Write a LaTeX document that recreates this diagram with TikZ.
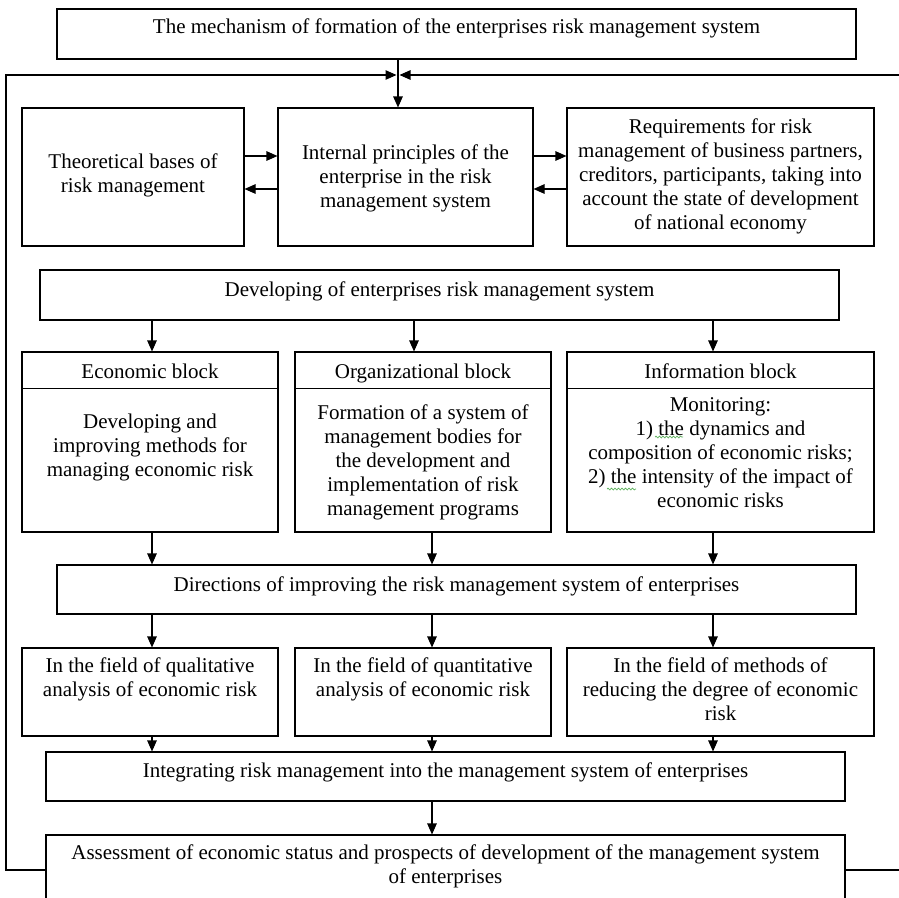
\documentclass[tikz,border=0pt]{standalone}
\usepackage{fontspec}
\setmainfont{Liberation Serif}
\usetikzlibrary{arrows.meta,decorations.pathmorphing}
\definecolor{spell}{RGB}{90,175,90}
\begin{document}
\begin{tikzpicture}[x=1pt,y=-1pt,
  box/.style={draw, rectangle, inner sep=0pt, line width=1.1pt},
  txt/.style={inner sep=0pt, align=center, font=\fontsize{21}{24}\selectfont, anchor=base},
  arr/.style={-{Triangle[length=11pt,width=9.5pt]}, line width=1.1pt},
  squig/.style={draw=spell, line width=0.7pt, decorate,
    decoration={snake, amplitude=0.9pt, segment length=3.5pt}}
]
\useasboundingbox (0,0) rectangle (899,897);
\clip (0,0) rectangle (899,897);

% boxes
\node[box, minimum width=799pt, minimum height=50pt]  (top)    at (456.5,34)    {};
\node[box, minimum width=222pt, minimum height=138pt] (theo)   at (133,177)     {};
\node[box, minimum width=255pt, minimum height=138pt] (intp)   at (405.5,177)   {};
\node[box, minimum width=307pt, minimum height=138pt] (req)    at (720.5,177)   {};
\node[box, minimum width=799pt, minimum height=50pt]  (dev)    at (439.5,295)   {};
\node[box, minimum width=256pt, minimum height=180pt] (econ)   at (150,442)     {};
\node[box, minimum width=256pt, minimum height=180pt] (org)    at (423,442)     {};
\node[box, minimum width=307pt, minimum height=180pt] (info)   at (720.5,442)   {};
\node[box, minimum width=799pt, minimum height=49pt]  (dir)    at (456.5,589.5) {};
\node[box, minimum width=256pt, minimum height=88pt]  (qual)   at (150,692)     {};
\node[box, minimum width=256pt, minimum height=88pt]  (quan)   at (423,692)     {};
\node[box, minimum width=307pt, minimum height=88pt]  (meth)   at (720.5,692)   {};
\node[box, minimum width=799pt, minimum height=49pt]  (integ)  at (445.5,776.5) {};
\node[box, minimum width=799pt, minimum height=70pt]  (assess) at (445.5,870)   {};

% block header separators
\foreach \b in {econ,org,info}
  \draw[line width=1.1pt] ([yshift=-37pt]\b.north west) -- ([yshift=-37pt]\b.north east);

% texts (placed by the baseline of their last line)
\node[txt] (topT)   at (456.5,33)  {The mechanism of formation of the enterprises risk management system};
\node[txt] (theoT)  at (133,192)   {Theoretical bases of\\risk management};
\node[txt] (intpT)  at (405.5,207) {Internal principles of the\\enterprise in the risk\\management system};
\node[txt] (reqT)   at (720.5,229) {Requirements for risk\\management of business partners,\\creditors, participants, taking into\\account the state of development\\of national economy};
\node[txt] (devT)   at (439.5,296) {Developing of enterprises risk management system};
\node[txt] (econH)  at (150,378)   {Economic block};
\node[txt] (orgH)   at (423,378)   {Organizational block};
\node[txt] (infoH)  at (720.5,378) {Information block};
\node[txt] (econT)  at (150,476)   {Developing and\\improving methods for\\managing economic risk};
\node[txt] (orgT)   at (423,515)   {Formation of a system of\\management bodies for\\the development and\\implementation of risk\\management programs};
\node[txt] (infoT)  at (720.5,507) {Monitoring:\\1) the dynamics and\\composition of economic risks;\\2) the intensity of the impact of\\economic risks};
\node[txt] (dirT)   at (456.5,591) {Directions of improving the risk management system of enterprises};
\node[txt] (qualT)  at (150,696)   {In the field of qualitative\\analysis of economic risk};
\node[txt] (quanT)  at (423,696)   {In the field of quantitative\\analysis of economic risk};
\node[txt] (methT)  at (720.5,720) {In the field of methods of\\reducing the degree of economic\\risk};
\node[txt] (integT) at (445.5,777) {Integrating risk management into the management system of enterprises};
\node[txt] (assessT) at (445.5,883) {Assessment of economic status and prospects of development of the management system\\of enterprises};

% spell-check marks
\path[squig] (655,437) -- (683,437);
\path[squig] (607,489) -- (636,489);

% column positions of the vertical connectors
\coordinate (loop) at (398,75);
\coordinate (colA) at (152,0);
\coordinate (colB) at (432,0);
\coordinate (colBd) at (414,0);
\coordinate (colC) at (713,0);
\coordinate (fbL) at (6,75);
\coordinate (fbR) at (915,75);

% top entry and feedback loop
\draw[arr] (loop |- top.south) -- (loop |- intp.north);
\draw[arr] (assess.west) -| (fbL) -- ([xshift=-1.5pt]loop);
\draw[arr] (assess.east) -| (fbR) -- ([xshift=1.5pt]loop);

% horizontal exchanges
\draw[arr] ([yshift=21pt]theo.east) -- ([yshift=21pt]intp.west);
\draw[arr] ([yshift=-12pt]intp.west) -- ([yshift=-12pt]theo.east);
\draw[arr] ([yshift=21pt]intp.east) -- ([yshift=21pt]req.west);
\draw[arr] ([yshift=-12pt]req.west) -- ([yshift=-12pt]intp.east);

% development to blocks
\draw[arr] (colA |- dev.south) -- (colA |- econ.north);
\draw[arr] (colBd |- dev.south) -- (colBd |- org.north);
\draw[arr] (colC |- dev.south) -- (colC |- info.north);

% blocks to directions
\draw[arr] (colA |- econ.south) -- (colA |- dir.north);
\draw[arr] (colB |- org.south) -- (colB |- dir.north);
\draw[arr] (colC |- info.south) -- (colC |- dir.north);

% directions to fields
\draw[arr] (colA |- dir.south) -- (colA |- qual.north);
\draw[arr] (colB |- dir.south) -- (colB |- quan.north);
\draw[arr] (colC |- dir.south) -- (colC |- meth.north);

% fields to integration
\draw[arr] (colA |- qual.south) -- (colA |- integ.north);
\draw[arr] (colB |- quan.south) -- (colB |- integ.north);
\draw[arr] (colC |- meth.south) -- (colC |- integ.north);

% integration to assessment
\draw[arr] (colB |- integ.south) -- (colB |- assess.north);
\end{tikzpicture}
\end{document}
